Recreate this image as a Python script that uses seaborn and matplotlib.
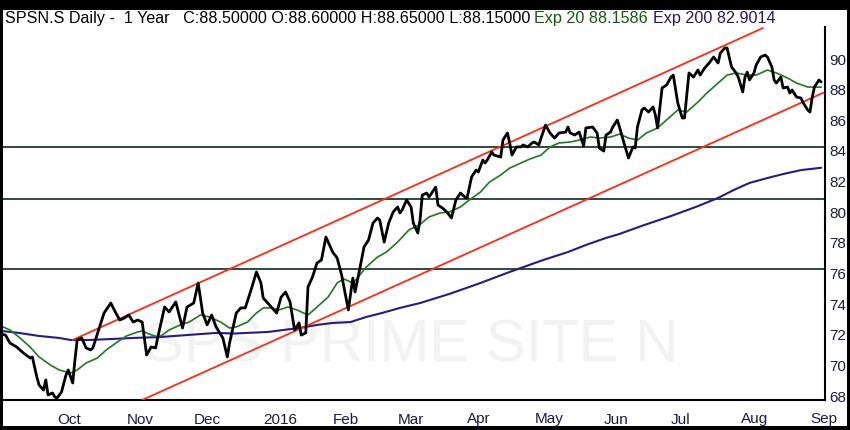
import pandas as pd
import matplotlib
matplotlib.use('Agg')
import matplotlib.pyplot as plt
from matplotlib.patches import Rectangle
import seaborn as sns

# day offsets are counted from this date
start = pd.Timestamp('2015-09-05')

price_days = [1, 3, 5, 8, 11, 14, 15, 17, 18, 20, 21, 22, 24, 25, 26, 28, 30, 31, 33, 34,
              35, 37, 39, 41, 42, 45, 47, 50, 52, 54, 56, 58, 60, 62, 64, 66, 68, 70, 71, 74,
              76, 79, 82, 84, 87, 89, 91, 93, 95, 97,
              100, 102, 103, 106, 108, 110, 113, 115, 117, 118, 120, 122, 124, 126, 128, 130,
              132, 134, 135, 137, 138, 140, 142, 144, 146, 147, 149, 151, 153, 155, 156, 158,
              159, 161, 163, 165, 167, 169, 170, 172, 174, 176, 178,
              179, 180, 182, 184, 185, 187, 188, 189, 191, 192, 195, 196, 198, 200, 202, 204,
              206, 208, 209, 211, 213, 214, 216, 217, 218, 220, 221, 224, 225, 227, 228, 229,
              231, 233, 234, 236, 238, 239, 241, 242, 244, 246, 248, 250, 253, 254, 255, 257,
              259, 261, 262, 265, 267,
              268, 270, 271, 273, 274, 276, 277, 279, 281, 283, 284, 285, 287, 288, 290, 292,
              293, 294, 296, 298, 300, 301, 303, 305, 306, 308, 310, 312, 313, 315, 317, 319,
              321, 322, 324, 325, 327, 329, 330, 332, 333, 334, 335, 337, 338, 340, 342, 343,
              345, 346, 347, 349, 350, 352, 353, 354, 356, 358, 359, 361, 362, 363, 364, 366, 367]
price_vals = [72.05, 71.98, 71.46, 71.20, 70.81, 70.48, 70.55, 69.24, 68.72, 68.39,
              69.05, 68.07, 68.20, 67.94, 67.87, 68.26, 69.37, 69.70, 68.85, 70.35,
              71.66, 71.79, 71.14, 71.01, 71.14, 72.51, 73.42, 74.07, 73.49, 72.96,
              73.09, 73.29, 72.83, 72.96, 72.83, 70.68, 71.20, 71.14, 71.85, 73.81,
              73.49, 74.14, 72.44, 73.81, 74.07, 75.38, 73.42, 72.64, 73.29, 72.51,
              71.79, 70.55, 71.46, 73.42, 73.75, 73.75, 75.12, 76.10, 75.38, 74.40,
              74.07, 73.75, 73.42, 74.46, 74.79, 74.14, 72.31, 72.77, 71.98, 72.12,
              75.12, 75.77, 76.68, 76.88, 78.38, 78.05, 77.40, 77.01, 75.90, 74.40,
              73.62, 75.70, 74.79, 76.23, 77.73, 78.18, 79.29, 79.62, 79.49, 78.05,
              79.29, 80.01, 80.34,
              79.95, 80.14, 80.80, 80.34, 79.29, 78.64, 79.49, 81.12, 81.25, 80.99,
              81.64, 80.47, 80.27, 80.01, 79.62, 80.80, 81.25, 80.99, 80.93, 82.30,
              82.75, 82.62, 83.41, 83.21, 83.41, 83.93, 83.73, 83.60, 84.71, 85.17,
              84.52, 83.73, 84.26, 84.26, 84.39, 84.26, 84.52, 84.58, 84.39, 84.84,
              85.69, 85.17, 84.84, 85.17, 85.23, 85.56, 85.17, 85.04, 85.23, 84.32,
              85.50, 85.56, 85.17,
              84.19, 83.99, 85.04, 85.23, 85.56, 86.02, 85.56, 84.52, 83.54, 84.26,
              84.19, 85.56, 86.67, 86.80, 86.54, 86.87, 86.34, 85.50, 88.11, 88.30,
              88.82, 88.95, 87.13, 86.15, 86.15, 89.09, 88.82, 89.28, 88.95, 89.41,
              89.74, 90.13, 89.74, 90.39, 90.72, 90.72, 89.48, 89.09, 88.82, 87.85,
              88.82, 89.15, 88.63, 89.09, 89.61, 90.13, 90.26, 90.13, 89.48, 88.63,
              88.43, 88.82, 88.11, 88.17, 87.78, 87.98, 87.52, 87.45, 87.13, 86.67,
              86.54, 87.52, 88.17, 88.63, 88.50]

ema20_days = [1, 5, 9, 14, 18, 23, 27, 32, 35, 39, 44, 48, 53, 57, 62, 64, 67, 71, 73, 76,
              81, 85, 90, 94, 99, 103, 106, 111, 115, 118, 122, 125, 129, 133, 138, 142, 147,
              151, 154, 158, 160, 164, 169, 173, 178, 183, 188, 192, 197, 201, 206, 210, 215,
              219, 224, 228, 233, 237, 242, 246, 250, 255, 259, 264, 268, 273, 277, 281, 285,
              289, 294, 298, 303, 307, 312, 316, 320, 325, 329, 334, 338, 343, 347, 352, 356,
              361, 363, 367]
ema20_vals = [72.57, 72.31, 71.85, 71.20, 70.55, 70.03, 69.70, 69.50, 69.70, 70.16,
              70.48, 71.01, 71.53, 71.92, 72.18, 72.25, 72.05, 71.85, 71.98, 72.31,
              72.64, 72.83, 73.29, 73.16, 72.83, 72.44, 72.51, 72.83, 73.42, 73.75,
              73.75, 73.62, 73.81, 73.62, 73.29, 73.81, 74.46, 75.38, 75.64, 75.38,
              75.70, 76.42, 77.07, 77.40, 78.05, 78.84, 79.20, 79.69, 79.95, 80.01,
              80.34, 80.80, 81.32, 81.97, 82.43, 82.88, 83.21, 83.47, 83.73, 84.26,
              84.52, 84.58, 84.71, 84.91, 84.84, 84.91, 85.10, 84.84, 84.71, 85.17,
              85.50, 86.02, 86.67, 86.54, 87.19, 87.78, 88.30, 88.95, 89.09, 88.95,
              88.95, 89.28, 89.09, 88.76, 88.43, 88.17, 88.17, 88.16]

ema200_days = [1, 9, 18, 27, 32, 41, 50, 60, 72, 84, 97, 105, 120, 134, 142, 149, 157, 164,
               171, 179, 188, 201, 215, 228, 243, 254, 262, 271, 277, 288, 300, 311, 321, 328,
               335, 343, 350, 358, 367]
ema200_vals = [72.25, 72.12, 71.92, 71.79, 71.66, 71.66, 71.72, 71.79, 71.85, 71.98,
               72.12, 72.08, 72.18, 72.44, 72.64, 72.77, 72.83, 73.16, 73.42, 73.75,
               74.07, 74.66, 75.38, 76.10, 76.88, 77.40, 77.86, 78.32, 78.58, 79.16,
               79.75, 80.34, 80.93, 81.45, 81.91, 82.23, 82.49, 82.75, 82.90]

# trend channel (two parallel lines)
upper_days = [33, 341]
upper_vals = [71.66, 92.02]
lower_days = [64, 368]
lower_vals = [67.74, 87.80]

# horizontal support / resistance levels
levels = [84.25, 80.85, 76.30]

month_ticks = ['2015-10-01', '2015-11-01', '2015-12-01', '2016-01-01', '2016-02-01',
               '2016-03-01', '2016-04-01', '2016-05-01', '2016-06-01', '2016-07-01',
               '2016-08-01', '2016-09-01']
month_labels = ['Oct', 'Nov', 'Dec', '2016', 'Feb', 'Mar', 'Apr', 'May', 'Jun', 'Jul',
                'Aug', 'Sep']
y_ticks = [68, 70, 72, 74, 76, 78, 80, 82, 84, 86, 88, 90]

header_main = 'SPSN.S Daily -  1 Year   C:88.50000 O:88.60000 H:88.65000 L:88.15000'
header_ema20 = 'Exp 20 88.1586'
header_ema200 = 'Exp 200 82.9014'
watermark = 'SPS PRIME SITE N'


def to_frame(days, vals):
    return pd.DataFrame({'date': start + pd.to_timedelta(days, unit='D'), 'value': vals})


sns.set_style('white')
plt.rcParams['font.family'] = ['Liberation Sans', 'DejaVu Sans']

fig = plt.figure(figsize=(8.5, 4.3), dpi=100, facecolor='black')
# white panel inside the black frame
fig.patches.append(Rectangle((3 / 850, 4 / 430), 844 / 850, 416 / 430,
                             transform=fig.transFigure, facecolor='white',
                             edgecolor='none', zorder=-5))
ax = fig.add_axes([3 / 850, 30 / 430, 822 / 850, 373 / 430])
ax.set_facecolor('white')

ax.text(0.172, 0.145, watermark, transform=ax.transAxes, fontsize=43,
        color='#f2f2f2', va='center', ha='left', zorder=0)

for lv in levels:
    ax.axhline(lv, color='#1f3b33', lw=1.3, zorder=1)

sns.lineplot(data=to_frame(ema200_days, ema200_vals), x='date', y='value', ax=ax,
             color='#2b1a80', lw=1.5, estimator=None, sort=False, zorder=2)
sns.lineplot(data=to_frame(upper_days, upper_vals), x='date', y='value', ax=ax,
             color='#ff2a14', lw=1.3, estimator=None, sort=False, zorder=3)
sns.lineplot(data=to_frame(lower_days, lower_vals), x='date', y='value', ax=ax,
             color='#ff2a14', lw=1.3, estimator=None, sort=False, zorder=3)
sns.lineplot(data=to_frame(ema20_days, ema20_vals), x='date', y='value', ax=ax,
             color='#1f7a1f', lw=1.2, estimator=None, sort=False, zorder=4)
sns.lineplot(data=to_frame(price_days, price_vals), x='date', y='value', ax=ax,
             color='black', lw=2.0, estimator=None, sort=False, zorder=5)

ax.set_xlim(start + pd.Timedelta(days=1.9), start + pd.Timedelta(days=368.7))
ax.set_ylim(67.74, 92.09)
ax.set_xlabel('')
ax.set_ylabel('')

ax.set_xticks(pd.to_datetime(month_ticks))
ax.set_xticklabels(month_labels, ha='left')
ax.set_yticks(y_ticks)
ax.yaxis.tick_right()
ax.tick_params(axis='y', length=0, pad=3, labelsize=11, labelcolor='#1a1a4d')
ax.tick_params(axis='x', length=6, width=1.5, color='black', direction='out', pad=3,
               labelsize=11, labelcolor='#1a1a4d')

for side in ['top', 'left']:
    ax.spines[side].set_visible(False)
for side in ['bottom', 'right']:
    ax.spines[side].set_visible(True)
    ax.spines[side].set_color('black')
    ax.spines[side].set_linewidth(1.5)

fig.text(5 / 850, 1 - 19 / 430, header_main, fontsize=11.6, color='black', va='center')
fig.text(534 / 850, 1 - 19 / 430, header_ema20, fontsize=11.6, color='#0d5c0d', va='center')
fig.text(653 / 850, 1 - 19 / 430, header_ema200, fontsize=11.6, color='#2a1268', va='center')

fig.savefig('out.png', dpi=100, facecolor='black')
